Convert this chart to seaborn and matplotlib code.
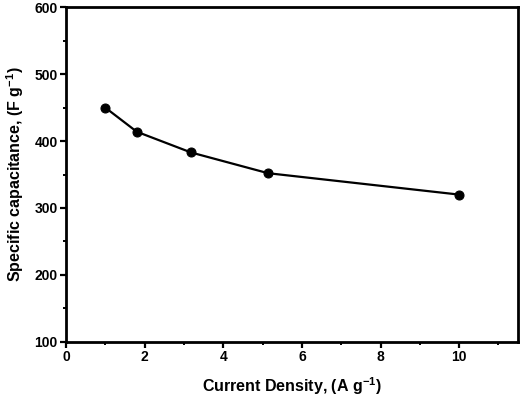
import matplotlib
matplotlib.use("Agg")
import matplotlib.pyplot as plt
import seaborn as sns
import pandas as pd
from matplotlib.ticker import MultipleLocator

current_density = [1.0, 1.8, 3.18, 5.14, 10.0]
capacitance = [450, 414, 383, 352, 320]

sns.set_style("ticks")
plt.rcParams['font.family'] = ['Liberation Sans', 'DejaVu Sans']
plt.rcParams['font.weight'] = 'bold'
plt.rcParams['mathtext.default'] = 'regular'
plt.rcParams['text.color'] = 'black'
plt.rcParams['axes.labelcolor'] = 'black'

df = pd.DataFrame({"x": current_density, "y": capacitance})

fig = plt.figure(figsize=(5.26, 3.96), dpi=100)
ax = fig.add_axes([0.1255, 0.137, 0.8595, 0.8445])
sns.lineplot(data=df, x="x", y="y", ax=ax, color="black", linewidth=1.6,
             marker="o", markersize=6.5, markeredgecolor="black", markerfacecolor="black")

ax.set_xlim(0, 11.5)
ax.set_ylim(100, 600)
ax.xaxis.set_major_locator(MultipleLocator(2))
ax.xaxis.set_minor_locator(MultipleLocator(1))
ax.yaxis.set_major_locator(MultipleLocator(100))
ax.yaxis.set_minor_locator(MultipleLocator(50))
for s in ax.spines.values():
    s.set_visible(True)
    s.set_linewidth(2)
    s.set_color("black")
ax.tick_params(which="major", direction="out", length=4, width=1.6, labelsize=10, pad=2, colors="black")
ax.tick_params(which="minor", direction="out", length=2, width=1.4, colors="black")
for lab in ax.get_xticklabels() + ax.get_yticklabels():
    lab.set_fontweight("bold")
ax.set_xlabel("Current Density, (A g$^{-1}$)", fontsize=11.5, fontweight="bold", labelpad=8, color="black")
ax.set_ylabel("Specific capacitance, (F g$^{-1}$)", fontsize=11.5, fontweight="bold", labelpad=6, color="black")

fig.savefig("out.png", dpi=100)
